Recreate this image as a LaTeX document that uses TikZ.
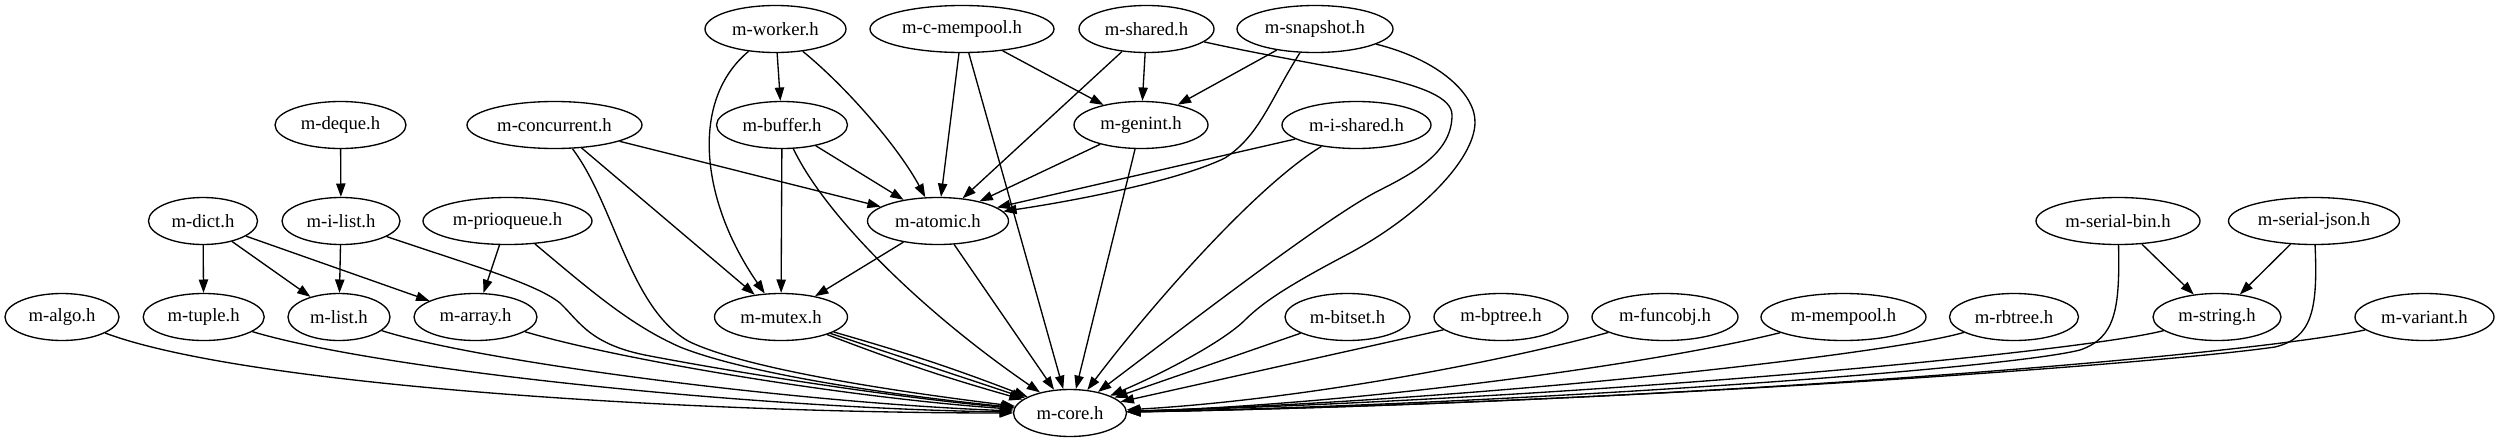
\documentclass[tikz,border=0pt]{standalone}
\usepackage{fontspec}
\setmainfont{Liberation Serif}
\usetikzlibrary{shapes.geometric,arrows.meta}
\begin{document}
\begin{tikzpicture}[x=0.75pt,y=-0.75pt,
  nd/.style={draw, ellipse, line width=1pt, inner sep=0pt, minimum height=35.25pt, font=\fontsize{14pt}{16pt}\selectfont},
  nw/.style={minimum width=#1*0.75pt},
  dep/.style={line width=1pt, -{Triangle[length=10pt,width=7pt]}}]
\useasboundingbox (0,0) rectangle (2500,443);
% row 1
\node[nd,nw=141] (worker) at (775.5,29) {m-worker.h};
\node[nd,nw=184] (cmem) at (962,29) {m-c-mempool.h};
\node[nd,nw=135] (shared) at (1146.5,29) {m-shared.h};
\node[nd,nw=156] (snap) at (1315,29) {m-snapshot.h};
% row 2
\node[nd,nw=131] (deque) at (340.5,125) {m-deque.h};
\node[nd,nw=175] (conc) at (554.5,125) {m-concurrent.h};
\node[nd,nw=131] (buffer) at (782,125) {m-buffer.h};
\node[nd,nw=134] (genint) at (1141,125) {m-genint.h};
\node[nd,nw=149] (ishared) at (1356.5,125) {m-i-shared.h};
% row 3
\node[nd,nw=109] (dict) at (203,221) {m-dict.h};
\node[nd,nw=118] (ilist) at (341,221) {m-i-list.h};
\node[nd,nw=169] (prio) at (507.5,221) {m-prioqueue.h};
\node[nd,nw=141] (atomic) at (938,221) {m-atomic.h};
\node[nd,nw=164] (sbin) at (2118,221) {m-serial-bin.h};
\node[nd,nw=171] (sjson) at (2314,221) {m-serial-json.h};
% row 4
\node[nd,nw=114] (algo) at (62,317) {m-algo.h};
\node[nd,nw=121] (tuple) at (203.7,317) {m-tuple.h};
\node[nd,nw=102] (list) at (339,317) {m-list.h};
\node[nd,nw=123] (array) at (475.5,317) {m-array.h};
\node[nd,nw=133] (mutex) at (781,317) {m-mutex.h};
\node[nd,nw=125] (bitset) at (1347.5,317) {m-bitset.h};
\node[nd,nw=134] (bptree) at (1501,317) {m-bptree.h};
\node[nd,nw=146] (funcobj) at (1665,317) {m-funcobj.h};
\node[nd,nw=165] (mempool) at (1843.5,317) {m-mempool.h};
\node[nd,nw=129] (rbtree) at (2014,317) {m-rbtree.h};
\node[nd,nw=128] (string) at (2217,317) {m-string.h};
\node[nd,nw=139] (variant) at (2424.5,317) {m-variant.h};
% row 5
\node[nd,nw=113] (core) at (1070,413) {m-core.h};

% edges among upper nodes
\draw[dep] (deque) -- (ilist);
\draw[dep] (dict) -- (tuple);
\draw[dep] (dict) -- (list);
\draw[dep] (dict) -- (array);
\draw[dep] (ilist) -- (list);
\draw[dep] (prio) -- (array);
\draw[dep] (worker) -- (buffer);
\draw[dep] (worker) .. controls (690,100) and (700,200) .. (mutex);
\draw[dep] (worker) .. controls (850,90) and (900,150) .. (atomic);
\draw[dep] (conc) -- (atomic);
\draw[dep] (conc) -- (mutex);
\draw[dep] (buffer) -- (atomic);
\draw[dep] (buffer) -- (mutex);
\draw[dep] (cmem) -- (atomic);
\draw[dep] (cmem) -- (genint);
\draw[dep] (shared) -- (genint);
\draw[dep] (shared) -- (atomic);
\draw[dep] (snap) -- (genint);
\draw[dep] (snap) .. controls (1270,100) and (1260,135) .. (1225,158) .. controls (1180,180) and (1080,200) .. (atomic);
\draw[dep] (genint) -- (atomic);
\draw[dep] (ishared) -- (atomic);
\draw[dep] (atomic) -- (mutex);
\draw[dep] (sbin) -- (string);
\draw[dep] (sjson) -- (string);

% edges into m-core, from the left
\draw[dep] (algo) .. controls (250,387) and (700,413) .. (core);
\draw[dep] (tuple) .. controls (380,370) and (750,408) .. (core);
\draw[dep] (list) .. controls (480,362) and (800,403) .. (core);
\draw[dep] (array) .. controls (620,360) and (850,398) .. (core);
\draw[dep] (ilist) .. controls (470,265) and (535,283) .. (560,303) .. controls (580,322) and (590,345) .. (650,356) .. controls (750,375) and (900,398) .. (core);
\draw[dep] (prio) .. controls (590,290) and (630,325) .. (680,347) .. controls (750,375) and (900,396) .. (core);
\draw[dep] (conc) .. controls (615,205) and (630,310) .. (690,342) .. controls (750,370) and (900,392) .. (core);
\draw[dep] (mutex) to[bend left=2.5] (core);
\draw[dep] (mutex) -- (core);
\draw[dep] (mutex) to[bend right=2.5] (core);
\draw[dep] (buffer) .. controls (825,215) and (920,310) .. (core);
\draw[dep] (atomic) -- (core);
\draw[dep] (cmem) -- (core);
\draw[dep] (genint) -- (core);
\draw[dep] (ishared) .. controls (1250,190) and (1140,320) .. (core);
\draw[dep] (shared) .. controls (1330,70) and (1452,80) .. (1452,115) .. controls (1452,150) and (1420,170) .. (1380,190) .. controls (1330,215) and (1200,315) .. (core);
\draw[dep] (snap) .. controls (1440,60) and (1476,95) .. (1475,123) .. controls (1474,160) and (1420,215) .. (1350,253) .. controls (1295,282) and (1265,300) .. (1245,320) .. controls (1225,340) and (1170,370) .. (core);

% edges into m-core, from the right
\draw[dep] (bitset) -- (core);
\draw[dep] (bptree) -- (core);
\draw[dep] (funcobj) .. controls (1500,362) and (1300,400) .. (core);
\draw[dep] (mempool) .. controls (1650,365) and (1350,405) .. (core);
\draw[dep] (rbtree) .. controls (1900,352) and (1500,400) .. (core);
\draw[dep] (string) .. controls (2080,352) and (1600,398) .. (core);
\draw[dep] (variant) .. controls (2250,355) and (1700,402) .. (core);
\draw[dep] (sbin) .. controls (2120,310) and (2115,338) .. (2080,350) .. controls (2000,370) and (1500,405) .. (core);
\draw[dep] (sjson) .. controls (2318,310) and (2312,338) .. (2275,347) .. controls (2150,365) and (1600,404) .. (core);
\end{tikzpicture}
\end{document}
